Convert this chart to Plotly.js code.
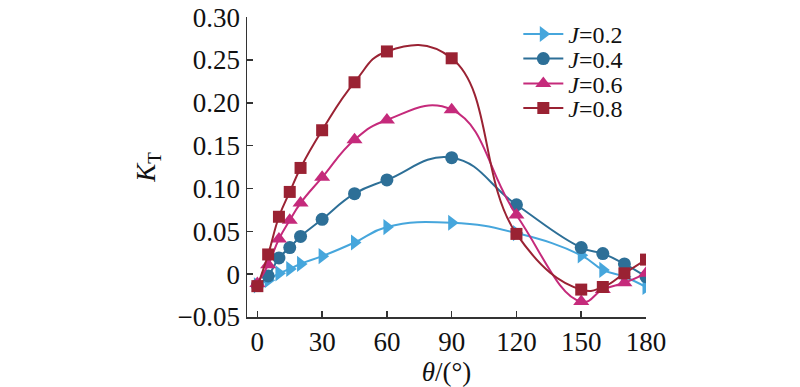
<!DOCTYPE html>
<html>
<head>
<meta charset="utf-8">
<script src="https://cdn.plot.ly/plotly-3.0.1.min.js"></script>
<style>html,body{margin:0;padding:0;background:#fff;}#chart{width:800px;height:387px;}</style>
</head>
<body>
<div id="chart"></div>
<script>
// θ (degrees)
const theta = [0, 5, 10, 15, 20, 30, 45, 60, 90, 120, 150, 160, 170, 180];
// K_T values for each advance ratio J
const kJ02 = [-0.013, -0.007, 0.001, 0.006, 0.012, 0.021, 0.037, 0.055, 0.060, 0.048, 0.022, 0.005, -0.003, -0.015];
const kJ04 = [-0.013, -0.002, 0.019, 0.031, 0.044, 0.064, 0.094, 0.110, 0.136, 0.081, 0.031, 0.024, 0.012, -0.003];
const kJ06 = [-0.011, 0.011, 0.041, 0.063, 0.083, 0.113, 0.157, 0.180, 0.192, 0.069, -0.032, -0.018, -0.010, 0.001];
const kJ08 = [-0.014, 0.023, 0.067, 0.096, 0.124, 0.168, 0.224, 0.260, 0.252, 0.047, -0.018, -0.015, 0.001, 0.017];
const seriesNames = ['<i>J</i>=0.2', '<i>J</i>=0.4', '<i>J</i>=0.6', '<i>J</i>=0.8'];
const xTicks = [0, 30, 60, 90, 120, 150, 180];
const yTickVals = [-0.05, 0, 0.05, 0.10, 0.15, 0.20, 0.25, 0.30];
const yTickText = ['\u22120.05', '0', '0.05', '0.10', '0.15', '0.20', '0.25', '0.30'];

const colors = ['#46a6dc', '#2d6f97', '#c52a7b', '#9a2233'];
const symbols = ['triangle-right', 'circle', 'triangle-up', 'square'];
const sizes = [14, 13, 14, 12];
const ys = [kJ02, kJ04, kJ06, kJ08];
const legendIds = ['legend', 'legend2', 'legend3', 'legend4'];

const traces = ys.map((y, i) => ({
  x: theta, y: y, name: seriesNames[i], type: 'scatter', mode: 'lines+markers',
  legend: legendIds[i],
  line: {color: colors[i], width: 2, shape: 'spline', smoothing: 1.3},
  marker: {color: colors[i], symbol: symbols[i], size: sizes[i]}
}));

const FONT = 'Liberation Serif, Times New Roman, serif';
const layout = {
  width: 800, height: 387,
  margin: {l: 247, r: 154, t: 14, b: 70},
  paper_bgcolor: '#fff', plot_bgcolor: '#fff',
  font: {family: FONT, size: 27, color: '#111'},
  showlegend: true,
  xaxis: {
    range: [-4.8, 180], tickvals: xTicks, ticks: 'inside', ticklen: 6, tickwidth: 1.5, tickcolor: '#333',
    showline: true, linecolor: '#333', linewidth: 1.5, showgrid: false, zeroline: false,
    tickfont: {family: FONT, size: 27},
    title: {text: '<i>θ</i>/(°)', font: {family: FONT, size: 27}, standoff: 3}
  },
  yaxis: {
    range: [-0.05, 0.3002], tickvals: yTickVals, ticktext: yTickText, ticks: 'inside', ticklen: 6, tickwidth: 1.5, tickcolor: '#333',
    showline: true, linecolor: '#333', linewidth: 1.5, showgrid: false, zeroline: false,
    tickfont: {family: FONT, size: 27},
    title: {text: '<i>K</i><sub>T</sub>', font: {family: FONT, size: 27}, standoff: 14}
  }
};
// four single-entry legends stacked at the reference's row spacing
const legendRowsY = [0.942, 0.860, 0.777, 0.695];
legendIds.forEach((id, i) => {
  layout[id] = {x: 0.68, y: legendRowsY[i], xanchor: 'left', yanchor: 'middle', bgcolor: 'rgba(0,0,0,0)',
    font: {family: FONT, size: 24, color: '#111'}, itemwidth: 40};
});
Plotly.newPlot('chart', traces, layout, {displayModeBar: false, staticPlot: true});
</script>
</body>
</html>
